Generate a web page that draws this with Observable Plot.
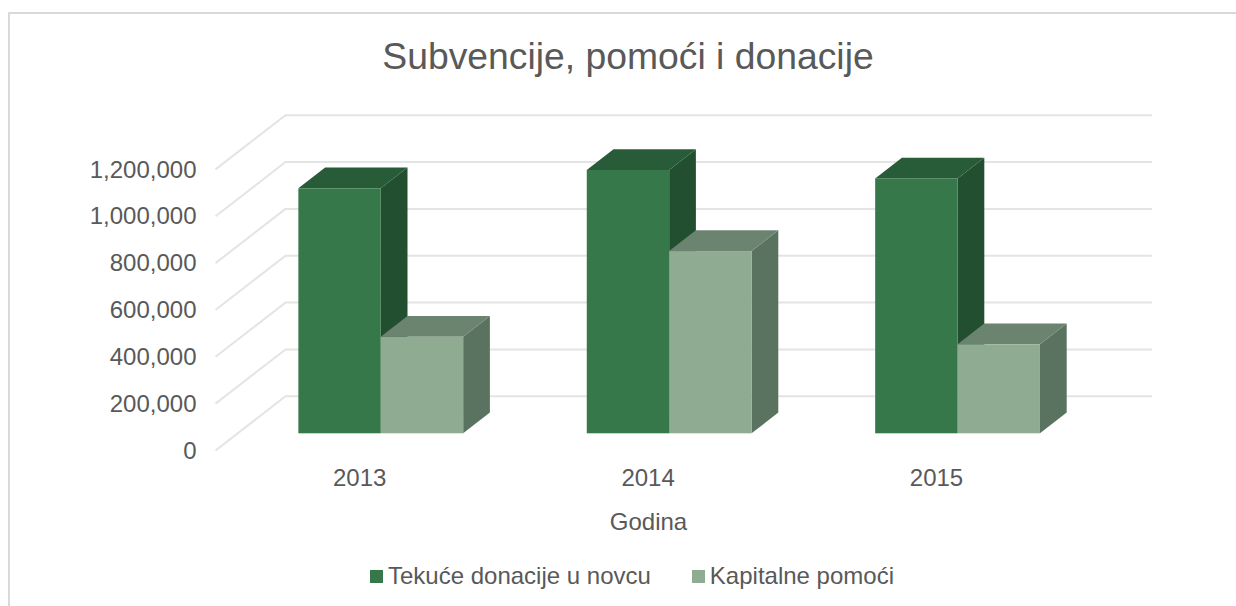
<!DOCTYPE html>
<html>
<head>
<meta charset="utf-8">
<script src="https://cdn.jsdelivr.net/npm/d3@7"></script>
<script src="https://cdn.jsdelivr.net/npm/@observablehq/plot@0.6"></script>
<style>
  html, body { margin: 0; padding: 0; background: #fff; overflow: hidden; }
  #page { position: relative; width: 1236px; height: 606px; font-family: "Liberation Sans", Arial, sans-serif; color: #595959; }
  #frame { position: absolute; left: 8px; top: 12px; right: -4px; bottom: -4px; border-left: 2px solid #d9d9d9; border-top: 2px solid #d9d9d9; }
  #title { position: absolute; left: 0; width: 1256px; top: 34px; text-align: center; font-size: 37.3px; line-height: 44px; font-weight: 400; margin: 0; }
  #chart { position: absolute; left: 0; top: 90px; }
  #chart svg { display: block; }
  #xlabel { position: absolute; left: 548.5px; width: 200px; top: 508px; text-align: center; font-size: 24px; line-height: 28px; }
  #legend { position: absolute; top: 562px; left: 370px; display: flex; align-items: center; font-size: 24px; line-height: 28px; white-space: nowrap; }
  #legend .sw { display: inline-block; width: 13px; height: 13px; margin-right: 5px; }
  #legend .item { display: flex; align-items: center; margin-right: 41px; }
</style>
</head>
<body>
<div id="page">
  <div id="frame"></div>
  <h1 id="title"></h1>
  <div id="chart"></div>
  <div id="xlabel"></div>
  <div id="legend"></div>
</div>
<script>
const titleText = "Subvencije, pomoći i donacije";
const axisTitle = "Godina";
const years = ["2013", "2014", "2015"];
const seriesNames = ["Tekuće donacije u novcu", "Kapitalne pomoći"];
const tekuce = [1046000, 1124000, 1088000];
const kapitalne = [412000, 778000, 380000];
const valueTicks = [0, 200000, 400000, 600000, 800000, 1000000, 1200000];

// colours: front, top, side
const frontColors = ["#37784a", "#8fac92"];
const topColors = ["#285c38", "#6b8470"];
const sideColors = ["#214f30", "#5a7360"];
const gridColor = "#e4e4e4";

// oblique projection of the depth axis, in data units
const depthX = 0.2427;
const depthY = 231400;
const barWidth = 1 / 3.5;
const gap = 0.75 * barWidth;
const t0 = 0.308;
const t1 = 0.69;

const bars = [];
years.forEach((year, c) => {
  [tekuce, kapitalne].forEach((vals, s) => {
    bars.push({year, s, id: year + s, x1: c + gap + s * barWidth, x2: c + gap + (s + 1) * barWidth, v: vals[c]});
  });
});
const sideRows = bars.flatMap(b => [t0, t1].map(t => ({id: b.id, s: b.s,
  x: b.x2 + depthX * t, lo: depthY * t, hi: b.v + depthY * t})));
const topRows = bars.flatMap(b => [t0, t1].map(t => ({id: b.id, s: b.s,
  y: b.v + depthY * t, x1: b.x1 + depthX * t, x2: b.x2 + depthX * t})));

const marks = [
  Plot.ruleY(valueTicks, {y: d => d + depthY, x1: depthX, x2: years.length + depthX + 0.006, stroke: gridColor, strokeWidth: 2}),
  Plot.link(valueTicks, {x1: 0, y1: d => d, x2: depthX, y2: d => d + depthY, stroke: gridColor, strokeWidth: 2}),
];
for (const b of bars) {
  marks.push(
    Plot.areaY(sideRows.filter(r => r.id === b.id), {x: "x", y1: "lo", y2: "hi", fill: sideColors[b.s]}),
    Plot.areaX(topRows.filter(r => r.id === b.id), {y: "y", x1: "x1", x2: "x2", fill: topColors[b.s]}),
    Plot.rect([b], {
      x1: d => d.x1 + depthX * t0, x2: d => d.x2 + depthX * t0,
      y1: depthY * t0, y2: d => d.v + depthY * t0,
      fill: frontColors[b.s]
    })
  );
}
marks.push(
  Plot.axisY({ticks: valueTicks, tickFormat: d3.format(","), tickSize: 0, tickPadding: 19, fontSize: 24, color: "#595959", label: null, anchor: "left", dy: 0.5}),
  Plot.axisX({ticks: years.map((_, i) => i + 0.5), tickFormat: d => years[d - 0.5], tickSize: 0, tickPadding: 18, fontSize: 24, color: "#595959", label: null, anchor: "bottom"})
);

const plot = Plot.plot({
  width: 1236, height: 410,
  marginLeft: 215, marginRight: 85.8, marginTop: 24.7, marginBottom: 50,
  x: {type: "linear", domain: [0, years.length + depthX]},
  y: {type: "linear", domain: [0, 1200000 + depthY]},
  style: {background: "transparent", fontFamily: "Liberation Sans, Arial, sans-serif"},
  marks
});
document.getElementById("chart").appendChild(plot);
document.getElementById("title").textContent = titleText;
document.getElementById("xlabel").textContent = axisTitle;
const legend = document.getElementById("legend");
seriesNames.forEach((name, i) => {
  const item = document.createElement("span");
  item.className = "item";
  const sw = document.createElement("span");
  sw.className = "sw";
  sw.style.background = frontColors[i];
  item.appendChild(sw);
  item.appendChild(document.createTextNode(name));
  legend.appendChild(item);
});
</script>
</body>
</html>
